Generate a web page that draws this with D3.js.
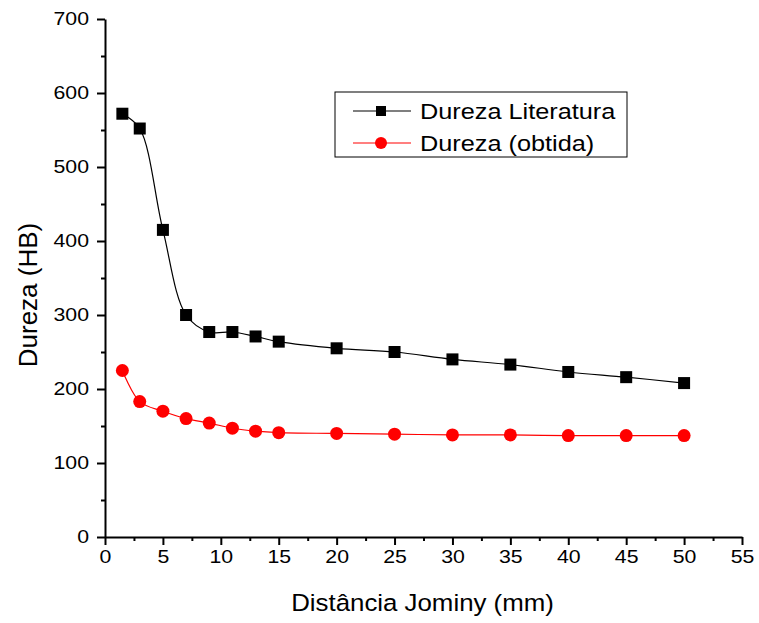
<!DOCTYPE html>
<html>
<head>
<meta charset="utf-8">
<script src="https://cdn.jsdelivr.net/npm/d3@7"></script>
<style>
  body { margin: 0; background: #fff; }
  svg text { font-family: "Liberation Sans", Arial, sans-serif; fill: #000; }
</style>
</head>
<body>
<svg id="chart" width="759" height="623"></svg>
<script>
// distance from quenched end (mm)
const distances = [1.5, 3, 5, 7, 9, 11, 13, 15, 20, 25, 30, 35, 40, 45, 50];
const durezaLiteratura = [572, 552, 415, 300, 277, 277, 271, 264, 255, 250, 240, 233, 223, 216, 208];
const durezaObtida = [225, 183, 170, 160, 154, 147, 143, 141, 140, 139, 138, 138, 137, 137, 137];
const xTicks = [0, 5, 10, 15, 20, 25, 30, 35, 40, 45, 50, 55];
const yTicks = [0, 100, 200, 300, 400, 500, 600, 700];

let margin = { top: 19, right: 17, bottom: 86, left: 105 },
    width = 759 - margin.left - margin.right,
    height = 623 - margin.top - margin.bottom;

const stretch = 1.15; // the original fonts look a bit wider than Arial

let svg = d3.select("#chart");
let g = svg.append("g")
    .attr("transform", "translate(" + margin.left + "," + margin.top + ")");

let x = d3.scaleLinear().domain([0, 55]).range([0, width]);
let y = d3.scaleLinear().domain([0, 700]).range([height, 0]);

// minor ticks
let xMinor = d3.range(2.5, 55, 5);
let yMinor = d3.range(50, 700, 100);

let xAxis = g.append("g")
    .attr("transform", "translate(0," + height + ")")
    .call(d3.axisBottom(x).tickValues(xTicks).tickSize(8).tickPadding(5).tickSizeOuter(0));
g.append("g")
    .attr("transform", "translate(0," + height + ")")
    .call(d3.axisBottom(x).tickValues(xMinor).tickSize(4).tickFormat("").tickSizeOuter(0))
    .select(".domain").remove();

let yAxis = g.append("g")
    .call(d3.axisLeft(y).tickValues(yTicks).tickSize(8).tickPadding(8).tickSizeOuter(0));
g.append("g")
    .call(d3.axisLeft(y).tickValues(yMinor).tickSize(4).tickFormat("").tickSizeOuter(0))
    .select(".domain").remove();

g.selectAll(".domain").attr("stroke-width", 2);
g.selectAll(".tick line").attr("stroke-width", 2);
g.selectAll(".tick text").style("font-size", "18.5px");
xAxis.selectAll(".tick text").attr("transform", "scale(" + stretch + ",1)");
yAxis.selectAll(".tick text").each(function () {
    let t = d3.select(this);
    let tx = +t.attr("x");
    t.attr("x", 0).attr("transform", "translate(" + tx + ",0) scale(" + stretch + ",1)");
});

// axis titles
svg.append("text")
    .attr("transform", "translate(" + (margin.left + x(27.5) - 1) + ",611) scale(1.1,1)")
    .attr("text-anchor", "middle")
    .style("font-size", "23.5px")
    .text("Distância Jominy (mm)");

svg.append("text")
    .attr("transform", "translate(37," + (margin.top + y(327)) + ") rotate(-90)")
    .attr("text-anchor", "middle")
    .style("font-size", "26px")
    .text("Dureza (HB)");

let series = [
    { name: "Dureza Literatura", values: durezaLiteratura, color: "#000", shape: "square" },
    { name: "Dureza (obtida)", values: durezaObtida, color: "#ff0000", shape: "circle" }
];

let line = d3.line()
    .x(function (d) { return x(d[0]); })
    .y(function (d) { return y(d[1]); })
    .curve(d3.curveCatmullRom.alpha(0.5));

series.forEach(s => {
    let pts = distances.map((d, i) => [d, s.values[i]]);
    g.append("path")
        .datum(pts)
        .attr("fill", "none")
        .attr("stroke", s.color)
        .attr("stroke-width", 1.2)
        .attr("d", line);

    if (s.shape === "square") {
        g.selectAll(".sq")
            .data(pts)
            .enter().append("rect")
            .attr("x", d => x(d[0]) - 6)
            .attr("y", d => y(d[1]) - 6)
            .attr("width", 12)
            .attr("height", 12)
            .attr("fill", s.color);
    } else {
        g.selectAll(".ci")
            .data(pts)
            .enter().append("circle")
            .attr("cx", d => x(d[0]))
            .attr("cy", d => y(d[1]))
            .attr("r", 6.5)
            .attr("fill", s.color);
    }
});

// legend
let legend = svg.append("g").attr("transform", "translate(335,92)");
legend.append("rect")
    .attr("width", 292)
    .attr("height", 65)
    .attr("fill", "#fff")
    .attr("stroke", "#000")
    .attr("stroke-width", 1);

series.forEach((s, i) => {
    let cy = 19 + i * 32;
    legend.append("line")
        .attr("x1", 18).attr("x2", 76)
        .attr("y1", cy).attr("y2", cy)
        .attr("stroke", s.color)
        .attr("stroke-width", 1.2);
    if (s.shape === "square") {
        legend.append("rect")
            .attr("x", 41).attr("y", cy - 5)
            .attr("width", 10).attr("height", 10)
            .attr("fill", s.color);
    } else {
        legend.append("circle")
            .attr("cx", 46).attr("cy", cy)
            .attr("r", 6)
            .attr("fill", s.color);
    }
    legend.append("text")
        .attr("transform", "translate(85," + (cy + 8) + ") scale(" + stretch + ",1)")
        .style("font-size", "22px")
        .text(s.name);
});
</script>
</body>
</html>
